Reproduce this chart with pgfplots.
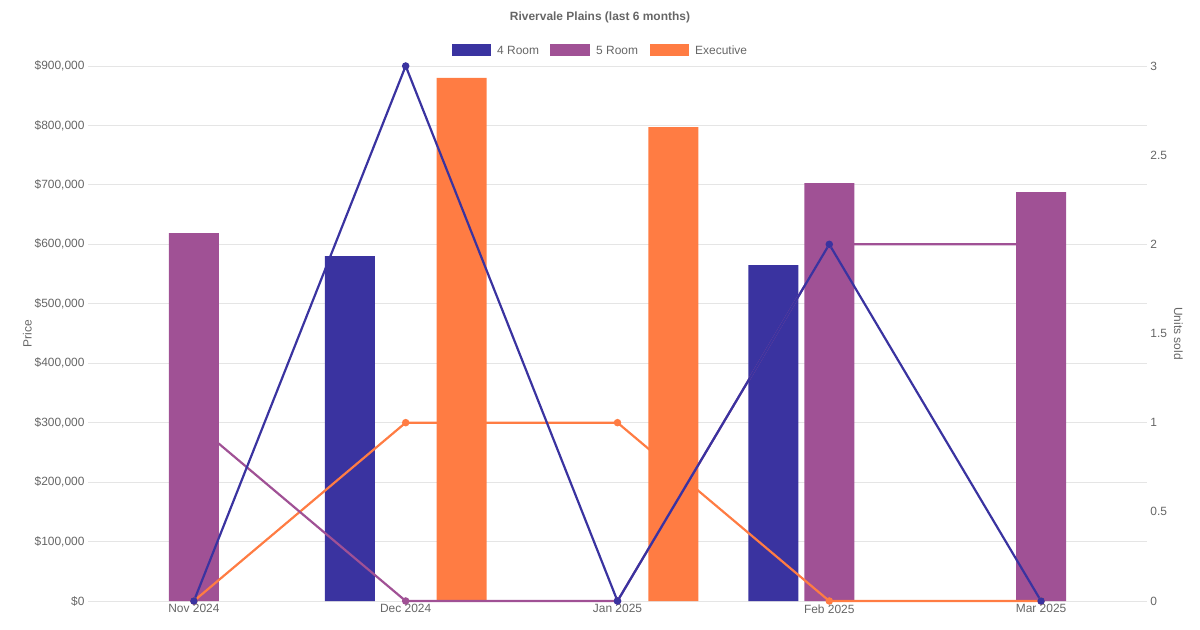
\documentclass[border=0pt]{standalone}
\usepackage{pgfplots}
\pgfplotsset{compat=1.18}
\usepackage{fontspec}
\setmainfont{Liberation Sans}
\definecolor{cA}{HTML}{3A33A0}
\definecolor{cB}{HTML}{A05195}
\definecolor{cC}{HTML}{FF7C43}
\definecolor{tg}{HTML}{666666}
\definecolor{gl}{HTML}{E5E5E5}
\begin{document}
\begin{tikzpicture}[x=1bp,y=1bp]
\pgfplotsset{every axis/.style={scale only axis, width=1059bp, height=535bp,
  xmin=-0.5, xmax=4.5, axis line style={draw=none},
  tick label style={font=\fontsize{12}{14}\selectfont, text=tg},
  /pgf/number format/assume math mode=true, major tick length=0pt,
  xtick={0,1,2,3,4}, clip=false}}
\begin{axis}[ymin=0, ymax=900000, ytick={0,100000,...,900000},
  ymajorgrids, grid style={gl, line width=0.8pt},
  xticklabels={Nov 2024,Dec 2024,Jan 2025,Feb 2025,Mar 2025},
  yticklabel={\$\pgfmathprintnumber[fixed, 1000 sep={,}]{\tick}},
  scaled y ticks=false,
  ylabel={Price}, ylabel style={font=\fontsize{12}{14}\selectfont, text=tg},
  ylabel shift=-4bp,
  ybar, bar width=0.236, bar shift=0pt]
\addplot[fill=cA, draw=none] coordinates {(0.736,580000) (2.736,565000)};
\addplot[fill=cB, draw=none] coordinates {(0,619000) (3,703000) (4,688000)};
\addplot[fill=cC, draw=none] coordinates {(1.264,880000) (2.264,797000)};
\end{axis}
\begin{axis}[ymin=0, ymax=3, ytick={0,0.5,...,3}, axis y line*=right,
  xticklabels={}, yticklabel style={/pgf/number format/fixed},
  ylabel={Units sold}, ylabel style={font=\fontsize{12}{14}\selectfont, text=tg, rotate=180},
  mark options={solid}]
\addplot[cC, line width=2.2pt, mark=*, mark size=2.6pt] coordinates {(0,0) (1,1) (2,1) (3,0) (4,0)};
\addplot[cB, line width=2.2pt, mark=*, mark size=2.6pt] coordinates {(0,1) (1,0) (2,0) (3,2) (4,2)};
\addplot[cA, line width=2.2pt, mark=*, mark size=2.6pt] coordinates {(0,0) (1,3) (2,0) (3,2) (4,0)};
\end{axis}
\node[font=\bfseries\fontsize{12}{14}\selectfont, text=tg] at (512bp,584bp) {Rivervale Plains (last 6 months)};
\fill[cA] (364bp,545bp) rectangle (403bp,557bp);
\node[anchor=west, font=\fontsize{12}{14}\selectfont, text=tg, inner sep=0] at (409bp,551bp) {4 Room};
\fill[cB] (462bp,545bp) rectangle (502bp,557bp);
\node[anchor=west, font=\fontsize{12}{14}\selectfont, text=tg, inner sep=0] at (508bp,551bp) {5 Room};
\fill[cC] (562bp,545bp) rectangle (601bp,557bp);
\node[anchor=west, font=\fontsize{12}{14}\selectfont, text=tg, inner sep=0] at (607bp,551bp) {Executive};
\path[use as bounding box] (-88bp,-29bp) rectangle (1112bp,601bp);
\end{tikzpicture}
\end{document}
